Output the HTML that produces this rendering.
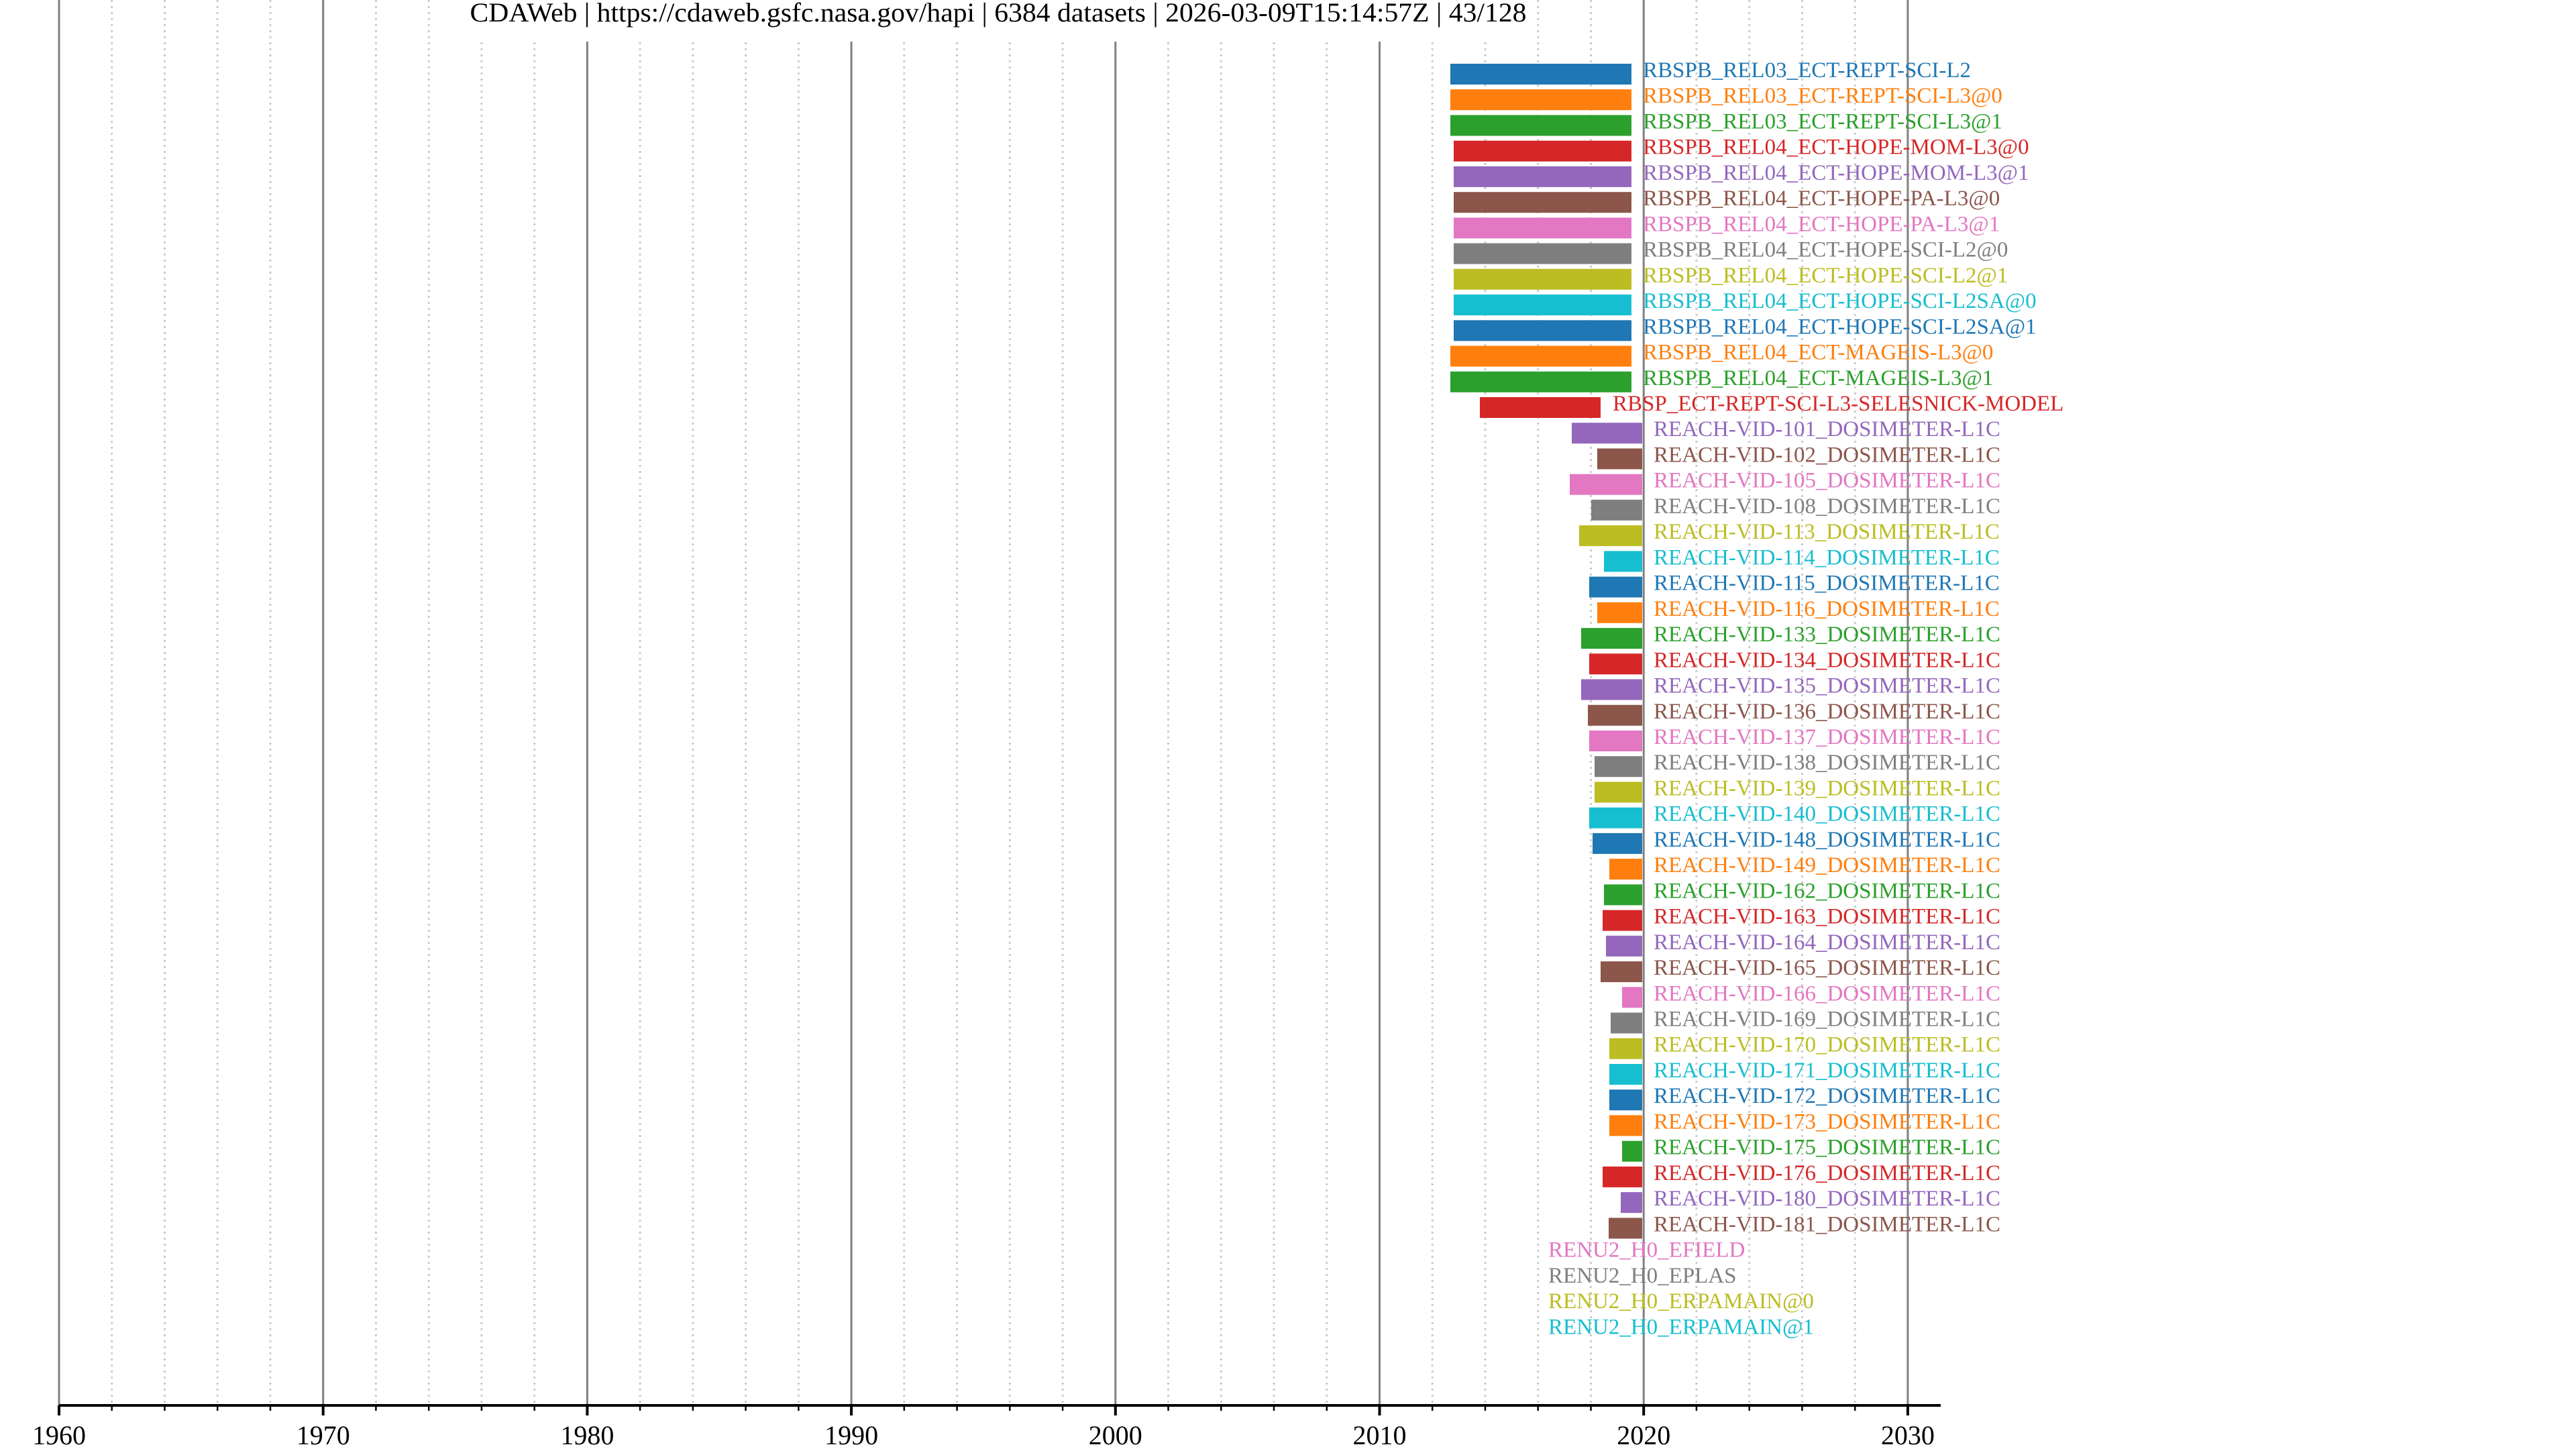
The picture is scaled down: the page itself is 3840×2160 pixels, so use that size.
<!DOCTYPE html>
<html><head><meta charset="utf-8"><style>
html,body{margin:0;padding:0;background:#fff;}
svg{display:block;}
text{font-family:"Liberation Serif","Times New Roman",serif;}
</style></head><body>
<svg width="3840" height="2160" viewBox="0 0 3840 2160" xmlns="http://www.w3.org/2000/svg">
<rect width="3840" height="2160" fill="#fff"/>
<!-- minor gridlines -->
<g stroke="#cccccc" stroke-width="3" stroke-dasharray="3,6">
<line x1="166.7" y1="0" x2="166.7" y2="2095"/><line x1="245.5" y1="0" x2="245.5" y2="2095"/><line x1="324.2" y1="0" x2="324.2" y2="2095"/><line x1="403" y1="0" x2="403" y2="2095"/>
<line x1="560.4" y1="0" x2="560.4" y2="2095"/><line x1="639.2" y1="0" x2="639.2" y2="2095"/><line x1="717.9" y1="0" x2="717.9" y2="2095"/><line x1="796.7" y1="0" x2="796.7" y2="2095"/>
<line x1="954.1" y1="0" x2="954.1" y2="2095"/><line x1="1032.9" y1="0" x2="1032.9" y2="2095"/><line x1="1111.6" y1="0" x2="1111.6" y2="2095"/><line x1="1190.4" y1="0" x2="1190.4" y2="2095"/>
<line x1="1347.8" y1="0" x2="1347.8" y2="2095"/><line x1="1426.6" y1="0" x2="1426.6" y2="2095"/><line x1="1505.3" y1="0" x2="1505.3" y2="2095"/><line x1="1584.1" y1="0" x2="1584.1" y2="2095"/>
<line x1="1741.5" y1="0" x2="1741.5" y2="2095"/><line x1="1820.3" y1="0" x2="1820.3" y2="2095"/><line x1="1899" y1="0" x2="1899" y2="2095"/><line x1="1977.8" y1="0" x2="1977.8" y2="2095"/>
<line x1="2135.2" y1="0" x2="2135.2" y2="2095"/><line x1="2214" y1="0" x2="2214" y2="2095"/><line x1="2292.7" y1="0" x2="2292.7" y2="2095"/><line x1="2371.5" y1="0" x2="2371.5" y2="2095"/>
<line x1="2528.9" y1="0" x2="2528.9" y2="2095"/><line x1="2607.7" y1="0" x2="2607.7" y2="2095"/><line x1="2686.4" y1="0" x2="2686.4" y2="2095"/><line x1="2765.2" y1="0" x2="2765.2" y2="2095"/>
</g>
<!-- major gridlines -->
<g stroke="#808080" stroke-width="3">
<line x1="88" y1="0" x2="88" y2="2095"/><line x1="481.7" y1="0" x2="481.7" y2="2095"/><line x1="875.4" y1="0" x2="875.4" y2="2095"/><line x1="1269.1" y1="0" x2="1269.1" y2="2095"/>
<line x1="1662.8" y1="0" x2="1662.8" y2="2095"/><line x1="2056.5" y1="0" x2="2056.5" y2="2095"/><line x1="2450.2" y1="0" x2="2450.2" y2="2095"/><line x1="2843.9" y1="0" x2="2843.9" y2="2095"/>
</g>
<!-- title -->
<rect x="690" y="0" width="1600" height="62" fill="#fff"/>
<text x="1488" y="32" font-size="40" text-anchor="middle" fill="#000" textLength="1575" lengthAdjust="spacingAndGlyphs">CDAWeb | https://cdaweb.gsfc.nasa.gov/hapi | 6384 datasets | 2026-03-09T15:14:57Z | 43/128</text>

<!-- bars -->
<g>
<rect x="2162" y="95" width="270" height="31" fill="#1f77b4"/>
<rect x="2162" y="133.2" width="270" height="31" fill="#ff7f0e"/>
<rect x="2162" y="171.5" width="270" height="31" fill="#2ca02c"/>
<rect x="2167" y="209.7" width="265" height="31" fill="#d62728"/>
<rect x="2167" y="247.9" width="265" height="31" fill="#9467bd"/>
<rect x="2167" y="286.2" width="265" height="31" fill="#8c564b"/>
<rect x="2167" y="324.4" width="265" height="31" fill="#e377c2"/>
<rect x="2167" y="362.6" width="265" height="31" fill="#7f7f7f"/>
<rect x="2167" y="400.8" width="265" height="31" fill="#bcbd22"/>
<rect x="2167" y="439.1" width="265" height="31" fill="#17becf"/>
<rect x="2167" y="477.3" width="265" height="31" fill="#1f77b4"/>
<rect x="2162" y="515.5" width="270" height="31" fill="#ff7f0e"/>
<rect x="2162" y="553.8" width="270" height="31" fill="#2ca02c"/>
<rect x="2206" y="592" width="180" height="31" fill="#d62728"/>
<rect x="2343" y="630.2" width="105" height="31" fill="#9467bd"/>
<rect x="2381" y="668.5" width="67" height="31" fill="#8c564b"/>
<rect x="2340" y="706.7" width="108" height="31" fill="#e377c2"/>
<rect x="2372" y="744.9" width="76" height="31" fill="#7f7f7f"/>
<rect x="2354" y="783.1" width="94" height="31" fill="#bcbd22"/>
<rect x="2391" y="821.4" width="57" height="31" fill="#17becf"/>
<rect x="2369" y="859.6" width="79" height="31" fill="#1f77b4"/>
<rect x="2381" y="897.8" width="67" height="31" fill="#ff7f0e"/>
<rect x="2357" y="936.1" width="91" height="31" fill="#2ca02c"/>
<rect x="2369" y="974.3" width="79" height="31" fill="#d62728"/>
<rect x="2357" y="1012.5" width="91" height="31" fill="#9467bd"/>
<rect x="2367" y="1050.8" width="81" height="31" fill="#8c564b"/>
<rect x="2369" y="1089" width="79" height="31" fill="#e377c2"/>
<rect x="2377" y="1127.2" width="71" height="31" fill="#7f7f7f"/>
<rect x="2377" y="1165.4" width="71" height="31" fill="#bcbd22"/>
<rect x="2369" y="1203.7" width="79" height="31" fill="#17becf"/>
<rect x="2374" y="1241.9" width="74" height="31" fill="#1f77b4"/>
<rect x="2399" y="1280.1" width="49" height="31" fill="#ff7f0e"/>
<rect x="2391" y="1318.4" width="57" height="31" fill="#2ca02c"/>
<rect x="2389" y="1356.6" width="59" height="31" fill="#d62728"/>
<rect x="2394" y="1394.8" width="54" height="31" fill="#9467bd"/>
<rect x="2386" y="1433.1" width="62" height="31" fill="#8c564b"/>
<rect x="2418" y="1471.3" width="30" height="31" fill="#e377c2"/>
<rect x="2401" y="1509.5" width="47" height="31" fill="#7f7f7f"/>
<rect x="2399" y="1547.7" width="49" height="31" fill="#bcbd22"/>
<rect x="2399" y="1586" width="49" height="31" fill="#17becf"/>
<rect x="2399" y="1624.2" width="49" height="31" fill="#1f77b4"/>
<rect x="2399" y="1662.4" width="49" height="31" fill="#ff7f0e"/>
<rect x="2418" y="1700.7" width="30" height="31" fill="#2ca02c"/>
<rect x="2389" y="1738.9" width="59" height="31" fill="#d62728"/>
<rect x="2416" y="1777.1" width="32" height="31" fill="#9467bd"/>
<rect x="2398" y="1815.4" width="50" height="31" fill="#8c564b"/>
</g>

<!-- labels -->
<g font-size="33">
<text x="2449" y="115" fill="#1f77b4">RBSPB_REL03_ECT-REPT-SCI-L2</text>
<text x="2449" y="153.2" fill="#ff7f0e">RBSPB_REL03_ECT-REPT-SCI-L3@0</text>
<text x="2449" y="191.5" fill="#2ca02c">RBSPB_REL03_ECT-REPT-SCI-L3@1</text>
<text x="2449" y="229.7" fill="#d62728">RBSPB_REL04_ECT-HOPE-MOM-L3@0</text>
<text x="2449" y="267.9" fill="#9467bd">RBSPB_REL04_ECT-HOPE-MOM-L3@1</text>
<text x="2449" y="306.2" fill="#8c564b">RBSPB_REL04_ECT-HOPE-PA-L3@0</text>
<text x="2449" y="344.4" fill="#e377c2">RBSPB_REL04_ECT-HOPE-PA-L3@1</text>
<text x="2449" y="382.6" fill="#7f7f7f">RBSPB_REL04_ECT-HOPE-SCI-L2@0</text>
<text x="2449" y="420.8" fill="#bcbd22">RBSPB_REL04_ECT-HOPE-SCI-L2@1</text>
<text x="2449" y="459.1" fill="#17becf">RBSPB_REL04_ECT-HOPE-SCI-L2SA@0</text>
<text x="2449" y="497.3" fill="#1f77b4">RBSPB_REL04_ECT-HOPE-SCI-L2SA@1</text>
<text x="2449" y="535.5" fill="#ff7f0e">RBSPB_REL04_ECT-MAGEIS-L3@0</text>
<text x="2449" y="573.8" fill="#2ca02c">RBSPB_REL04_ECT-MAGEIS-L3@1</text>
<text x="2404" y="612" fill="#d62728">RBSP_ECT-REPT-SCI-L3-SELESNICK-MODEL</text>
<text x="2465" y="650.2" fill="#9467bd">REACH-VID-101_DOSIMETER-L1C</text>
<text x="2465" y="688.5" fill="#8c564b">REACH-VID-102_DOSIMETER-L1C</text>
<text x="2465" y="726.7" fill="#e377c2">REACH-VID-105_DOSIMETER-L1C</text>
<text x="2465" y="764.9" fill="#7f7f7f">REACH-VID-108_DOSIMETER-L1C</text>
<text x="2465" y="803.1" fill="#bcbd22">REACH-VID-113_DOSIMETER-L1C</text>
<text x="2465" y="841.4" fill="#17becf">REACH-VID-114_DOSIMETER-L1C</text>
<text x="2465" y="879.6" fill="#1f77b4">REACH-VID-115_DOSIMETER-L1C</text>
<text x="2465" y="917.8" fill="#ff7f0e">REACH-VID-116_DOSIMETER-L1C</text>
<text x="2465" y="956.1" fill="#2ca02c">REACH-VID-133_DOSIMETER-L1C</text>
<text x="2465" y="994.3" fill="#d62728">REACH-VID-134_DOSIMETER-L1C</text>
<text x="2465" y="1032.5" fill="#9467bd">REACH-VID-135_DOSIMETER-L1C</text>
<text x="2465" y="1070.8" fill="#8c564b">REACH-VID-136_DOSIMETER-L1C</text>
<text x="2465" y="1109" fill="#e377c2">REACH-VID-137_DOSIMETER-L1C</text>
<text x="2465" y="1147.2" fill="#7f7f7f">REACH-VID-138_DOSIMETER-L1C</text>
<text x="2465" y="1185.4" fill="#bcbd22">REACH-VID-139_DOSIMETER-L1C</text>
<text x="2465" y="1223.7" fill="#17becf">REACH-VID-140_DOSIMETER-L1C</text>
<text x="2465" y="1261.9" fill="#1f77b4">REACH-VID-148_DOSIMETER-L1C</text>
<text x="2465" y="1300.1" fill="#ff7f0e">REACH-VID-149_DOSIMETER-L1C</text>
<text x="2465" y="1338.4" fill="#2ca02c">REACH-VID-162_DOSIMETER-L1C</text>
<text x="2465" y="1376.6" fill="#d62728">REACH-VID-163_DOSIMETER-L1C</text>
<text x="2465" y="1414.8" fill="#9467bd">REACH-VID-164_DOSIMETER-L1C</text>
<text x="2465" y="1453.1" fill="#8c564b">REACH-VID-165_DOSIMETER-L1C</text>
<text x="2465" y="1491.3" fill="#e377c2">REACH-VID-166_DOSIMETER-L1C</text>
<text x="2465" y="1529.5" fill="#7f7f7f">REACH-VID-169_DOSIMETER-L1C</text>
<text x="2465" y="1567.7" fill="#bcbd22">REACH-VID-170_DOSIMETER-L1C</text>
<text x="2465" y="1606" fill="#17becf">REACH-VID-171_DOSIMETER-L1C</text>
<text x="2465" y="1644.2" fill="#1f77b4">REACH-VID-172_DOSIMETER-L1C</text>
<text x="2465" y="1682.4" fill="#ff7f0e">REACH-VID-173_DOSIMETER-L1C</text>
<text x="2465" y="1720.7" fill="#2ca02c">REACH-VID-175_DOSIMETER-L1C</text>
<text x="2465" y="1758.9" fill="#d62728">REACH-VID-176_DOSIMETER-L1C</text>
<text x="2465" y="1797.1" fill="#9467bd">REACH-VID-180_DOSIMETER-L1C</text>
<text x="2465" y="1835.4" fill="#8c564b">REACH-VID-181_DOSIMETER-L1C</text>
<text x="2308" y="1873.6" fill="#e377c2">RENU2_H0_EFIELD</text>
<text x="2308" y="1911.8" fill="#7f7f7f">RENU2_H0_EPLAS</text>
<text x="2308" y="1950.1" fill="#bcbd22">RENU2_H0_ERPAMAIN@0</text>
<text x="2308" y="1988.3" fill="#17becf">RENU2_H0_ERPAMAIN@1</text>
</g>

<!-- x axis -->
<line x1="88" y1="2095" x2="2893" y2="2095" stroke="#000" stroke-width="4"/>
<g stroke="#000" stroke-width="2.5">
<line x1="166.7" y1="2095" x2="166.7" y2="2103"/><line x1="245.5" y1="2095" x2="245.5" y2="2103"/><line x1="324.2" y1="2095" x2="324.2" y2="2103"/><line x1="403" y1="2095" x2="403" y2="2103"/>
<line x1="560.4" y1="2095" x2="560.4" y2="2103"/><line x1="639.2" y1="2095" x2="639.2" y2="2103"/><line x1="717.9" y1="2095" x2="717.9" y2="2103"/><line x1="796.7" y1="2095" x2="796.7" y2="2103"/>
<line x1="954.1" y1="2095" x2="954.1" y2="2103"/><line x1="1032.9" y1="2095" x2="1032.9" y2="2103"/><line x1="1111.6" y1="2095" x2="1111.6" y2="2103"/><line x1="1190.4" y1="2095" x2="1190.4" y2="2103"/>
<line x1="1347.8" y1="2095" x2="1347.8" y2="2103"/><line x1="1426.6" y1="2095" x2="1426.6" y2="2103"/><line x1="1505.3" y1="2095" x2="1505.3" y2="2103"/><line x1="1584.1" y1="2095" x2="1584.1" y2="2103"/>
<line x1="1741.5" y1="2095" x2="1741.5" y2="2103"/><line x1="1820.3" y1="2095" x2="1820.3" y2="2103"/><line x1="1899" y1="2095" x2="1899" y2="2103"/><line x1="1977.8" y1="2095" x2="1977.8" y2="2103"/>
<line x1="2135.2" y1="2095" x2="2135.2" y2="2103"/><line x1="2214" y1="2095" x2="2214" y2="2103"/><line x1="2292.7" y1="2095" x2="2292.7" y2="2103"/><line x1="2371.5" y1="2095" x2="2371.5" y2="2103"/>
<line x1="2528.9" y1="2095" x2="2528.9" y2="2103"/><line x1="2607.7" y1="2095" x2="2607.7" y2="2103"/><line x1="2686.4" y1="2095" x2="2686.4" y2="2103"/><line x1="2765.2" y1="2095" x2="2765.2" y2="2103"/>
</g>
<g stroke="#000" stroke-width="4">
<line x1="88" y1="2095" x2="88" y2="2110"/><line x1="481.7" y1="2095" x2="481.7" y2="2110"/><line x1="875.4" y1="2095" x2="875.4" y2="2110"/><line x1="1269.1" y1="2095" x2="1269.1" y2="2110"/>
<line x1="1662.8" y1="2095" x2="1662.8" y2="2110"/><line x1="2056.5" y1="2095" x2="2056.5" y2="2110"/><line x1="2450.2" y1="2095" x2="2450.2" y2="2110"/><line x1="2843.9" y1="2095" x2="2843.9" y2="2110"/>
</g>
<g font-size="40" text-anchor="middle" fill="#000">
<text x="88" y="2153">1960</text><text x="481.7" y="2153">1970</text><text x="875.4" y="2153">1980</text><text x="1269.1" y="2153">1990</text>
<text x="1662.8" y="2153">2000</text><text x="2056.5" y="2153">2010</text><text x="2450.2" y="2153">2020</text><text x="2843.9" y="2153">2030</text>
</g>
</svg>
</body></html>
